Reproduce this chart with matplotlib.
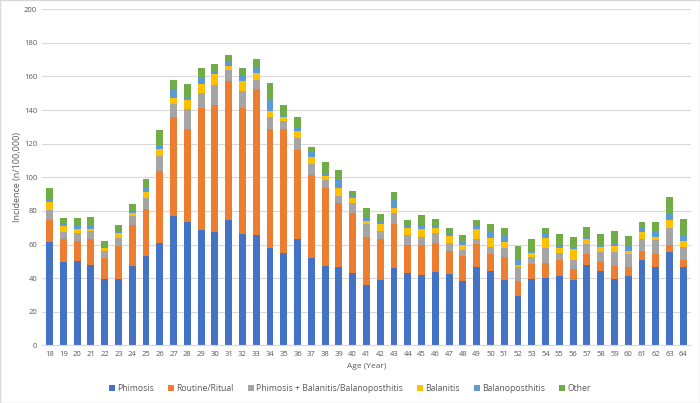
import numpy as np
import matplotlib.pyplot as plt
from matplotlib.patches import Rectangle

ages = list(range(18, 65))

phimosis = [61.7, 49.8, 50.4, 47.8, 39.5, 39.7, 47.4, 53.2, 60.7, 77.0, 73.6, 68.8, 67.5, 74.6,
            66.5, 65.5, 57.9, 55.0, 63.1, 52.2, 47.4, 46.8, 43.3, 36.1, 39.1, 46.2, 43.1, 41.7,
            43.7, 42.7, 38.3, 46.8, 44.4, 39.1, 29.6, 39.7, 40.3, 41.3, 39.1, 47.8, 44.0, 39.5,
            41.3, 50.8, 46.4, 55.8, 46.8]
routine = [12.9, 13.3, 11.7, 15.7, 12.7, 19.6, 24.0, 27.8, 43.1, 58.7, 55.4, 72.7, 75.8, 82.7,
           75.0, 86.9, 70.9, 74.0, 53.4, 49.0, 46.1, 38.1, 35.7, 28.2, 24.4, 26.0, 16.8, 18.0,
           17.0, 13.3, 15.1, 13.3, 9.8, 13.3, 8.7, 8.9, 8.9, 9.7, 6.3, 6.8, 5.8, 7.9,
           5.3, 5.5, 8.2, 3.9, 4.0]
phim_bal = [6.0, 4.2, 4.8, 4.5, 4.0, 4.6, 5.6, 6.9, 9.1, 8.1, 11.7, 8.5, 11.5, 6.4,
            10.1, 5.5, 7.1, 4.5, 7.1, 6.9, 4.7, 4.0, 5.9, 8.1, 4.8, 6.6, 6.0, 4.8,
            6.4, 4.7, 3.5, 3.4, 4.1, 5.7, 8.1, 4.0, 8.9, 4.2, 5.6, 5.5, 6.0, 8.2,
            7.6, 7.2, 7.9, 10.3, 7.7]
balanitis = [4.9, 3.7, 2.3, 1.2, 1.5, 3.1, 2.0, 3.2, 3.8, 3.4, 5.5, 5.4, 6.5, 2.8,
             5.5, 4.4, 3.6, 2.4, 4.2, 4.0, 2.8, 4.9, 3.0, 1.8, 3.9, 3.1, 4.1, 4.9,
             2.9, 4.6, 2.8, 5.7, 5.8, 3.6, 1.4, 2.2, 6.0, 2.9, 6.1, 3.0, 2.5, 3.7,
             2.1, 4.0, 2.0, 4.4, 3.4]
balanoposthitis = [1.0, 1.4, 2.2, 2.2, 0.8, 1.3, 1.0, 3.1, 2.7, 5.0, 1.2, 4.1, 1.2, 2.9,
                   3.6, 3.0, 6.5, 0.8, 2.4, 2.8, 1.4, 4.4, 1.2, 1.8, 1.4, 4.6, 1.4, 2.0,
                   1.2, 1.6, 2.0, 2.0, 4.2, 3.2, 3.0, 1.5, 2.6, 0.8, 1.2, 1.2, 0.8, 1.2,
                   3.2, 2.1, 3.2, 3.8, 4.0]
other = [7.0, 3.2, 4.2, 5.0, 3.8, 3.3, 4.1, 4.6, 8.8, 5.5, 8.4, 5.4, 5.2, 3.6,
         4.2, 5.3, 10.3, 6.2, 5.9, 3.1, 6.7, 6.2, 3.0, 5.7, 4.6, 4.8, 3.4, 6.0,
         4.2, 2.9, 3.8, 3.4, 3.7, 4.9, 8.1, 6.8, 3.1, 7.2, 6.2, 5.9, 7.4, 7.8,
         5.6, 3.8, 5.7, 10.1, 9.5]

series = [
    ("Phimosis", phimosis, "#4472C4"),
    ("Routine/Ritual", routine, "#ED7D31"),
    ("Phimosis + Balanitis/Balanoposthitis", phim_bal, "#A5A5A5"),
    ("Balanitis", balanitis, "#FFC000"),
    ("Balanoposthitis", balanoposthitis, "#5B9BD5"),
    ("Other", other, "#70AD47"),
]

plt.rcParams['font.family'] = ['Open Sans', 'DejaVu Sans']

fig = plt.figure(figsize=(7, 4.03), dpi=100)
ax = fig.add_axes([0.06, 0.143, 0.927, 0.834])

x = np.arange(len(ages))
bottom = np.zeros(len(ages))
for name, vals, col in series:
    ax.bar(x, vals, 0.5, bottom=bottom, color=col, label=name, zorder=2)
    bottom += np.array(vals)

ax.set_ylim(0, 200)
ax.set_yticks(range(0, 201, 20))
ax.set_xlim(-0.55, len(ages) - 0.45)
ax.set_xticks(x)
ax.set_xticklabels([str(a) for a in ages])
ax.tick_params(axis='both', length=0, labelsize=5.5, colors='#595959')
ax.tick_params(axis='x', pad=4)
ax.grid(axis='y', color='#D9D9D9', linewidth=0.8, zorder=0)
for s in ['top', 'right', 'left']:
    ax.spines[s].set_visible(False)
ax.spines['bottom'].set_color('#D9D9D9')

ax.set_xlabel('Age (Year)', fontsize=6, color='#595959', labelpad=4)
ax.set_ylabel('Incidence (n/100,000)', fontsize=6.5, color='#595959', labelpad=1)

leg = fig.legend(loc='center', bbox_to_anchor=(0.5, 0.035), ncol=6, frameon=False,
                 fontsize=6.2, handlelength=0.7, handleheight=0.7, handletextpad=0.3,
                 columnspacing=1.6)
for t in leg.get_texts():
    t.set_color('#595959')

fig.patches.append(Rectangle((0, 0), 1, 1, transform=fig.transFigure, fill=False,
                             edgecolor='#D9D9D9', linewidth=1.0))

fig.savefig('out.png', dpi=100)
